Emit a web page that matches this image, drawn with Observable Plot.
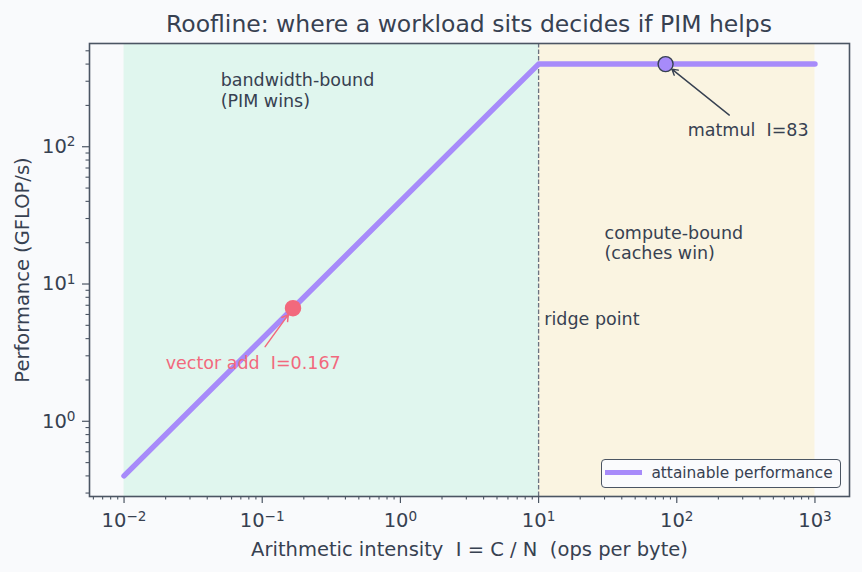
<!DOCTYPE html>
<html>
<head>
<meta charset="utf-8">
<script src="https://cdn.jsdelivr.net/npm/d3@7"></script>
<script src="https://cdn.jsdelivr.net/npm/@observablehq/plot@0.6"></script>
<style>
  html, body { margin: 0; padding: 0; background: #f9fafc; }
  #wrap { position: relative; width: 862px; height: 572px; font-family: "DejaVu Sans", sans-serif; color: #374151; }
  #title { box-sizing: border-box; height: 40px; padding-top: 10px; margin-left: 89px; width: 760px; font-size: 23.5px; line-height: 28px; text-align: center; color: #374151; white-space: nowrap; }
  svg text { white-space: pre; }
  #legend { position: absolute; left: 601px; top: 459px; width: 240px; height: 29px; box-sizing: border-box;
            border: 1.3px solid #4b5563; border-radius: 4px; background: #fafbfd; font-size: 15.4px; }
  #legend .swatch { position: absolute; left: 2.7px; top: 9.7px; width: 37px; height: 5.5px; background: #a78bfa; }
  #legend .lbl { position: absolute; left: 49.4px; top: 4.3px; line-height: 18px; white-space: pre; color: #374151; }
</style>
</head>
<body>
<div id="wrap">
  <div id="title">Roofline: where a workload sits decides if PIM helps</div>
  <div id="chart"></div>
  <div id="legend"><div class="swatch"></div><div class="lbl">attainable performance</div></div>
</div>
<script>
// ---- data ----
const intensity = [0.01, 10, 1000];          // ops per byte
const perf = [0.4, 400, 400];                // GFLOP/s (roofline)
const ridge = 10;
const workloadNames = ["vector add", "matmul"];
const workloadI = [0.167, 83];
const workloadPerf = [6.67, 400];
const workloadLabels = ["vector add  I=0.167", "matmul  I=83"];
const workloadLabelX = [0.02, 120];
const workloadLabelY = [2.66, 132];
const arrowTailX = [0.105, 240];
const arrowTailY = [3.5, 170];
const regionLabels = ["bandwidth-bound\n(PIM wins)", "compute-bound\n(caches win)"];
const regionLabelX = [0.05, 30];
const regionLabelY = [350, 27];
const ridgeLabel = "ridge point";
const ridgeLabelX = 11, ridgeLabelY = 5.5;
const xMajor = [1e-2, 1e-1, 1e0, 1e1, 1e2, 1e3];
const yMajor = [1e0, 1e1, 1e2];

// ---- derived ----
const roof = intensity.map((x, i) => ({x, y: perf[i]}));
const pad = (lo, hi) => { const a = Math.log10(lo), b = Math.log10(hi), m = (b - a) * 0.05; return [10 ** (a - m), 10 ** (b + m)]; };
const xDom = pad(d3.min(intensity), d3.max(intensity));
const yDom = pad(d3.min(perf), d3.max(perf));
const minorTicks = (dom) => {
  const out = [];
  for (let e = Math.floor(Math.log10(dom[0])); e <= Math.ceil(Math.log10(dom[1])); e++)
    for (let k = 2; k <= 9; k++) { const v = k * 10 ** e; if (v >= dom[0] && v <= dom[1]) out.push(v); }
  return out;
};
const sup = {"-": "\u207B", "0": "\u2070", "1": "\u00B9", "2": "\u00B2", "3": "\u00B3"};
const unsup = {"\u207B": "\u2212", "\u2070": "0", "\u00B9": "1", "\u00B2": "2", "\u00B3": "3"};
const fmt = v => "10" + String(Math.round(Math.log10(v))).split("").map(c => sup[c]).join("");
const regions = [
  {x1: intensity[0], x2: ridge, fill: "#e0f6ee"},
  {x1: ridge, x2: intensity[intensity.length - 1], fill: "#faf4e1"}
];
const work = workloadNames.map((n, i) => ({name: n, x: workloadI[i], y: workloadPerf[i], label: workloadLabels[i],
  lx: workloadLabelX[i], ly: workloadLabelY[i], tx: arrowTailX[i], ty: arrowTailY[i]}));
const regionText = regionLabels.map((t, i) => ({t, x: regionLabelX[i], y: regionLabelY[i]}));
const ink = "#374151", pink = "#f2697d", violet = "#a78bfa", axisInk = "#4b5563";

const chart = Plot.plot({
  width: 862, height: 532,
  marginLeft: 89, marginRight: 13, marginTop: 3, marginBottom: 76,
  style: {background: "transparent", fontFamily: "DejaVu Sans", fontSize: "19.5px", color: ink},
  x: {type: "log", domain: xDom},
  y: {type: "log", domain: yDom},
  marks: [
    Plot.rect(regions, {x1: "x1", x2: "x2", fill: "fill"}),
    Plot.ruleX([ridge], {stroke: "#6b7280", strokeWidth: 1.3, strokeDasharray: "4.5,2"}),
    Plot.line(roof, {x: "x", y: "y", stroke: violet, strokeWidth: 5.5}),
    Plot.arrow([work[0]], {x1: "tx", y1: "ty", x2: "x", y2: "y", stroke: pink, strokeWidth: 1.5, headLength: 7, insetEnd: 8}),
    Plot.arrow([work[1]], {x1: "tx", y1: "ty", x2: "x", y2: "y", stroke: ink, strokeWidth: 1.4, headLength: 7, insetEnd: 8}),
    Plot.dot([work[0]], {x: "x", y: "y", r: 7.5, fill: pink, stroke: pink}),
    Plot.dot([work[1]], {x: "x", y: "y", r: 7.5, fill: violet, stroke: ink, strokeWidth: 1.4}),
    Plot.text([work[0]], {x: "lx", y: "ly", text: "label", fill: pink, fontSize: 17.5, textAnchor: "start"}),
    Plot.text([work[1]], {x: "lx", y: "ly", text: "label", fill: ink, fontSize: 17.5, textAnchor: "start"}),
    Plot.text(regionText, {x: "x", y: "y", text: "t", fill: ink, fontSize: 17.5, textAnchor: "start", lineAnchor: "top", lineHeight: 1.16}),
    Plot.text([ridgeLabel], {x: () => ridgeLabelX, y: () => ridgeLabelY, text: d => d, fill: ink, fontSize: 17.5, textAnchor: "start"}),
    Plot.axisX({ticks: minorTicks(xDom), tickSize: 3.5, tickFormat: () => "", label: null, stroke: axisInk, strokeWidth: 1.1}),
    Plot.axisY({ticks: minorTicks(yDom), tickSize: 3.5, tickFormat: () => "", label: null, stroke: axisInk, strokeWidth: 1.1}),
    Plot.axisX({ticks: xMajor, tickSize: 7, tickPadding: 10, tickFormat: fmt, stroke: axisInk, strokeWidth: 1.2,
      label: "Arithmetic intensity  I = C / N  (ops per byte)", labelAnchor: "center", labelOffset: 59, labelArrow: "none"}),
    Plot.axisY({ticks: yMajor, tickSize: 7, tickPadding: 7, tickFormat: fmt, stroke: axisInk, strokeWidth: 1.2,
      label: "Performance (GFLOP/s)", labelAnchor: "center", labelOffset: 74.5, labelArrow: "none"}),
    Plot.frame({stroke: axisInk, strokeWidth: 1.6})
  ]
});

// render tick exponents as true superscripts (matplotlib-like mathtext)
const supRe = /^10([\u207B\u2070\u00B9\u00B2\u00B3]+)$/;
chart.querySelectorAll("text").forEach(t => {
  const target = t.querySelector("tspan") && t.querySelectorAll("tspan").length === 1 ? t.querySelector("tspan") : t;
  const m = (target.textContent || "").match(supRe);
  if (!m) return;
  const exp = m[1].split("").map(c => unsup[c]).join("");
  const ns = "http://www.w3.org/2000/svg";
  target.textContent = "10";
  const s = document.createElementNS(ns, "tspan");
  s.setAttribute("font-size", "13.6px");
  s.setAttribute("dy", "-6.5");
  s.textContent = exp;
  target.appendChild(s);
});
document.getElementById("chart").appendChild(chart);
</script>
</body>
</html>
